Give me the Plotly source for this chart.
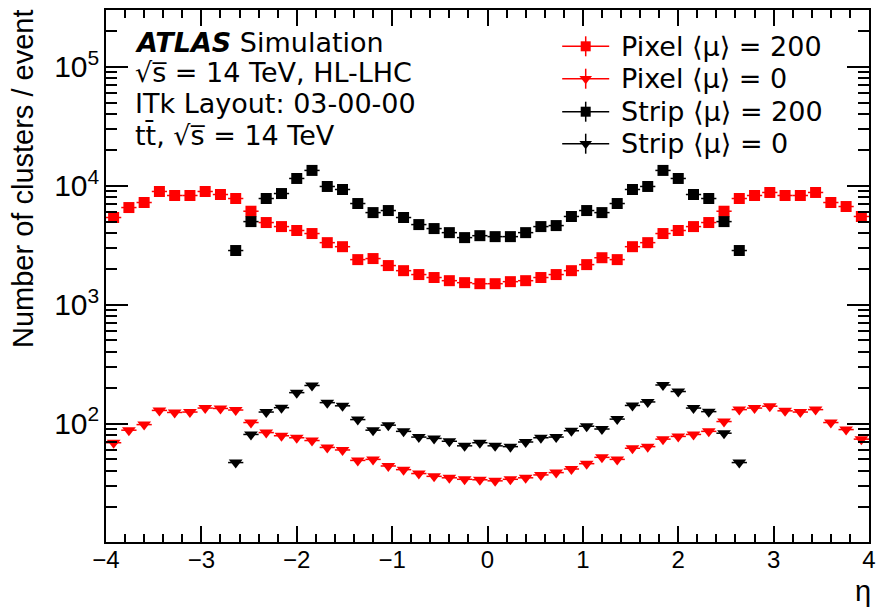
import math
import plotly.graph_objects as go

# eta bin centres (bin width 0.16)
eta = [-3.92, -3.76, -3.60, -3.44, -3.28, -3.12, -2.96, -2.80, -2.64, -2.48,
       -2.32, -2.16, -2.00, -1.84, -1.68, -1.52, -1.36, -1.20, -1.04, -0.88,
       -0.72, -0.56, -0.40, -0.24, -0.08, 0.08, 0.24, 0.40, 0.56, 0.72,
       0.88, 1.04, 1.20, 1.36, 1.52, 1.68, 1.84, 2.00, 2.16, 2.32,
       2.48, 2.64, 2.80, 2.96, 3.12, 3.28, 3.44, 3.60, 3.76, 3.92]
eta_strip = [-2.64, -2.48, -2.32, -2.16, -2.00, -1.84, -1.68, -1.52, -1.36, -1.20,
             -1.04, -0.88, -0.72, -0.56, -0.40, -0.24, -0.08, 0.08, 0.24, 0.40,
             0.56, 0.72, 0.88, 1.04, 1.20, 1.36, 1.52, 1.68, 1.84, 2.00,
             2.16, 2.32, 2.48, 2.64]
bin_half_width = 0.08

pixel_mu200 = [5400, 6550, 7220, 8940, 8270, 8270, 8940, 8430, 7800, 6100,
               4900, 4530, 4200, 3960, 3320, 3070, 2390, 2440, 2130, 1930,
               1790, 1690, 1590, 1530, 1500, 1500, 1560, 1590, 1690, 1790,
               1930, 2170, 2480, 2390, 3070, 3320, 3960, 4200, 4530, 4900,
               6100, 7800, 8270, 8770, 8270, 8270, 8770, 7220, 6680, 5510]
pixel_mu0 = [69, 88, 98, 129, 124, 125, 135, 134, 130, 102,
             84, 79, 76, 72, 63, 60, 49, 50, 44, 41,
             38, 36, 35, 34, 33.7, 33, 34, 35, 37, 38.7,
             41.5, 46, 52, 50, 62, 64, 74, 78, 81, 86,
             104, 131, 135, 140, 128, 125, 131, 102, 89, 74]
strip_mu200 = [2850, 4990, 7800, 8590, 11500, 13440, 9850, 9290, 7080, 5940,
               6180, 5400, 4710, 4360, 4030, 3660, 3800, 3730, 3730, 4030,
               4530, 4620, 5510, 6180, 5940, 7080, 9290, 9850, 13440, 11500,
               8430, 7800, 4990, 2850]
strip_mu0 = [47, 81, 125, 136, 182, 209, 150, 141, 108, 88,
             97, 86, 77, 75, 71, 65, 69, 65, 64, 70,
             76, 77, 87, 95, 90, 109, 142, 152, 211, 186,
             135, 126, 83, 47]

series = [
    ("Pixel ⟨μ⟩ = 200", eta, pixel_mu200, "#ff0000", "square", 11),
    ("Pixel ⟨μ⟩ = 0", eta, pixel_mu0, "#ff0000", "triangle-down", 12),
    ("Strip ⟨μ⟩ = 200", eta_strip, strip_mu200, "#000000", "square", 11),
    ("Strip ⟨μ⟩ = 0", eta_strip, strip_mu0, "#000000", "triangle-down", 12),
]

W, H = 876, 607
L, R, T, B = 106, 7, 10, 65
pw, ph = W - L - R, H - T - B


def px(x):
    return (x - L) / pw


def py(y):
    return (H - B - y) / ph


TEXT_FONT = "DejaVu Sans"
AXIS_FONT = "Liberation Sans"

fig = go.Figure()

for name, xs, ys, color, symbol, size in series:
    fig.add_trace(go.Scatter(
        x=xs, y=ys, mode="markers", name=name, showlegend=False,
        marker=dict(symbol=symbol, size=size, color=color, line=dict(width=0)),
        error_x=dict(type="constant", value=bin_half_width, color=color,
                     thickness=1.5, width=0),
        xaxis="x", yaxis="y",
    ))

# hand-drawn legend: glyph with cross-shaped error bars, then label
legend_rows = [46.3, 78.7, 111.7, 143.7]
legend_glyph_x = 585.7
legend_text_x = 620
for (name, xs, ys, color, symbol, size), row in zip(series, legend_rows):
    fig.add_trace(go.Scatter(
        x=[px(legend_glyph_x)], y=[py(row)], mode="markers", showlegend=False,
        marker=dict(symbol=symbol, size=size - 1, color=color, line=dict(width=0)),
        error_x=dict(type="data", array=[23.5 / pw], color=color, thickness=1.5, width=0),
        error_y=dict(type="data", array=[10 / ph], color=color, thickness=1.5, width=0),
        xaxis="x2", yaxis="y2", hoverinfo="skip",
    ))

annotations = []
for (name, *_), row in zip(series, legend_rows):
    annotations.append(dict(
        text=name, x=px(legend_text_x), y=py(row), xref="paper", yref="paper",
        xanchor="left", yanchor="middle", showarrow=False, borderpad=0,
        font=dict(family=TEXT_FONT, size=27, color="black"),
    ))

label_lines = [
    ("<b><i>ATLAS</i></b> Simulation", 42),
    ("√s\u0305 = 14 TeV, HL-LHC", 72.5),
    ("ITk Layout: 03-00-00", 104),
    ("tt\u0304, √s\u0305 = 14 TeV", 135),
]
for text, yc in label_lines:
    annotations.append(dict(
        text=text, x=px(134), y=py(yc), xref="paper", yref="paper",
        xanchor="left", yanchor="middle", showarrow=False, borderpad=0,
        font=dict(family=TEXT_FONT, size=27, color="black"),
    ))

# axis titles
annotations.append(dict(
    text="Number of clusters / event", x=px(23), y=py(179), xref="paper", yref="paper",
    xanchor="center", yanchor="middle", textangle=-90, showarrow=False, borderpad=0,
    font=dict(family=AXIS_FONT, size=29, color="black"),
))
annotations.append(dict(
    text="η", x=px(863), y=py(591), xref="paper", yref="paper",
    xanchor="center", yanchor="middle", showarrow=False, borderpad=0,
    font=dict(family=AXIS_FONT, size=29, color="black"),
))

fig.update_layout(
    width=W, height=H,
    margin=dict(l=L, r=R, t=T, b=B, pad=0, autoexpand=False),
    paper_bgcolor="white", plot_bgcolor="white",
    showlegend=False,
    annotations=annotations,
    xaxis=dict(
        range=[-4, 4], tick0=0, dtick=1, automargin=False,
        ticks="inside", ticklen=16, tickwidth=2, tickcolor="black",
        showline=True, linewidth=2, linecolor="black", mirror="ticks",
        showgrid=False, zeroline=False, ticklabelstandoff=-5,
        tickfont=dict(family=AXIS_FONT, size=24, color="black"),
        minor=dict(tick0=0, dtick=0.2, ticks="inside", ticklen=8, tickwidth=1.5,
                   tickcolor="black", showgrid=False),
    ),
    yaxis=dict(
        type="log", range=[math.log10(10.1), math.log10(3.0e5)], dtick=1,
        exponentformat="power", showexponent="all", automargin=False,
        ticks="inside", ticklen=22, tickwidth=2, tickcolor="black",
        showline=True, linewidth=2, linecolor="black", mirror="ticks",
        showgrid=False, zeroline=False,
        tickfont=dict(family=AXIS_FONT, size=24, color="black"),
        minor=dict(dtick="D1", ticks="inside", ticklen=11, tickwidth=1.5,
                   tickcolor="black", showgrid=False),
    ),
    xaxis2=dict(range=[0, 1], overlaying="x", anchor="y2", visible=False, fixedrange=True),
    yaxis2=dict(range=[0, 1], overlaying="y", anchor="x2", visible=False, fixedrange=True),
)

fig.write_html("out.html", config={"displayModeBar": False})
